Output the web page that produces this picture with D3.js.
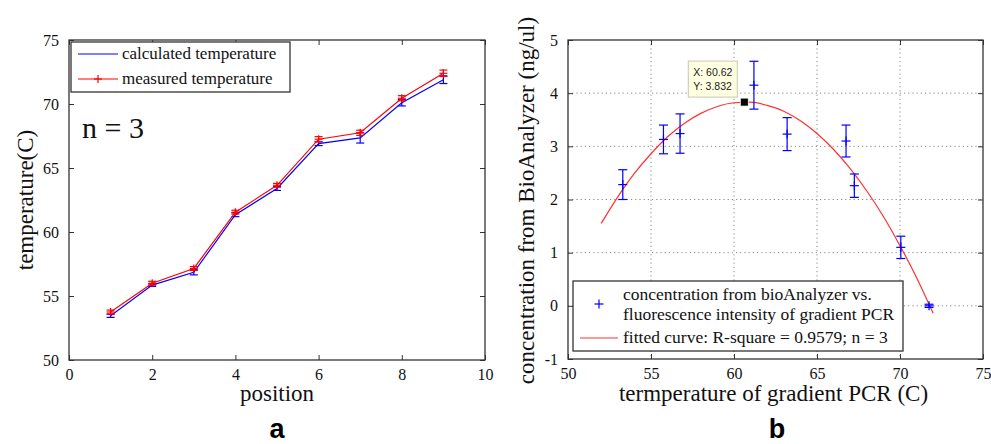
<!DOCTYPE html>
<html>
<head>
<meta charset="utf-8">
<script src="https://cdn.jsdelivr.net/npm/d3@7"></script>
<style>
  body { margin: 0; background: #fff; }
  svg { display: block; }
</style>
</head>
<body>
<div id="chart"></div>
<script>
// ---- panel a: temperature vs position ----
const positions = [1, 2, 3, 4, 5, 6, 7, 8, 9];
const calcTemp = [53.45, 55.85, 56.85, 61.35, 63.4, 66.9, 67.35, 70.1, 71.9];
const calcErr = [0.12, 0.1, 0.2, 0.15, 0.15, 0.15, 0.4, 0.25, 0.3];
const measTemp = [53.75, 56.0, 57.15, 61.55, 63.65, 67.25, 67.75, 70.45, 72.4];
const measErr = [0.15, 0.15, 0.15, 0.15, 0.15, 0.2, 0.2, 0.2, 0.25];
const aXTicks = [0, 2, 4, 6, 8, 10];
const aYTicks = [50, 55, 60, 65, 70, 75];

// ---- panel b: concentration vs PCR temperature ----
const pcrTemp = [53.3, 55.75, 56.75, 61.2, 63.2, 66.75, 67.25, 70.05, 71.75];
const concMean = [2.28, 3.13, 3.24, 4.15, 3.23, 3.1, 2.26, 1.1, 0.0];
const concErr = [0.28, 0.27, 0.37, 0.45, 0.31, 0.3, 0.22, 0.21, 0.03];
// fitted curve at whole degrees
const fitX = [52, 53, 54, 55, 56, 57, 58, 59, 60, 61, 62, 63, 64, 65, 66, 67, 68, 69, 70, 71, 72];
const fitY = [1.55, 2.05, 2.49, 2.86, 3.18, 3.43, 3.62, 3.75, 3.82, 3.83, 3.77, 3.66, 3.48, 3.24, 2.94, 2.58, 2.16, 1.68, 1.13, 0.53, -0.14];
const tipX = 60.62;
const tipY = 3.832;
const bXTicks = [50, 55, 60, 65, 70, 75];
const bYTicks = [-1, 0, 1, 2, 3, 4, 5];

const W = 991, H = 444;
const axisColor = '#333';
const blue = '#0000ff';
const red = '#ff0000';
const serif = '"Liberation Serif", "Times New Roman", serif';
const sans = '"Liberation Sans", Arial, sans-serif';

const svg = d3.select('#chart').append('svg')
    .attr('width', W)
    .attr('height', H);

// 画坐标框 + 内向刻度
function drawFrame(g, x, y, xt, yt, w, h) {
    const fmt = d => String(d);
    g.append('g')
        .attr('transform', `translate(0,${h})`)
        .call(d3.axisBottom(x).tickValues(xt).tickFormat(fmt).tickSize(-5).tickSizeOuter(0).tickPadding(9));
    g.append('g')
        .call(d3.axisTop(x).tickValues(xt).tickSize(-5).tickSizeOuter(0).tickFormat(''));
    g.append('g')
        .call(d3.axisLeft(y).tickValues(yt).tickFormat(fmt).tickSize(-5).tickSizeOuter(0).tickPadding(10));
    g.append('g')
        .attr('transform', `translate(${w},0)`)
        .call(d3.axisRight(y).tickValues(yt).tickSize(-5).tickSizeOuter(0).tickFormat(''));
    g.selectAll('.tick text')
        .attr('font-family', serif)
        .attr('font-size', 16)
        .attr('fill', '#111');
    g.selectAll('.domain').attr('stroke', 'none');
    g.selectAll('.tick line').attr('stroke', axisColor);
    g.append('rect')
        .attr('width', w).attr('height', h)
        .attr('fill', 'none')
        .attr('stroke', axisColor)
        .attr('stroke-width', 1.3);
}

function errBars(g, xs, ys, es, x, y, color, cap) {
    xs.forEach((v, i) => {
        const cx = x(v);
        const y0 = y(ys[i] - es[i]), y1 = y(ys[i] + es[i]);
        g.append('line').attr('x1', cx).attr('x2', cx).attr('y1', y0).attr('y2', y1)
            .attr('stroke', color).attr('stroke-width', 1.2);
        [y0, y1].forEach(yy => {
            g.append('line').attr('x1', cx - cap).attr('x2', cx + cap).attr('y1', yy).attr('y2', yy)
                .attr('stroke', color).attr('stroke-width', 1.2);
        });
    });
}

function plusMark(g, cx, cy, r, color) {
    g.append('line').attr('x1', cx - r).attr('x2', cx + r).attr('y1', cy).attr('y2', cy)
        .attr('stroke', color).attr('stroke-width', 1.2);
    g.append('line').attr('x1', cx).attr('x2', cx).attr('y1', cy - r).attr('y2', cy + r)
        .attr('stroke', color).attr('stroke-width', 1.2);
}

function serifText(sel, size) {
    return sel.attr('font-family', serif).attr('font-size', size).attr('fill', '#111');
}

/*
 * panel a
 */
(function () {
    const left = 69, top = 40, w = 416, h = 320;
    const x = d3.scaleLinear().domain([0, 10]).range([0, w]);
    const y = d3.scaleLinear().domain([50, 75]).range([h, 0]);
    const g = svg.append('g').attr('transform', `translate(${left},${top})`);

    drawFrame(g, x, y, aXTicks, aYTicks, w, h);

    const line = d3.line().x(d => x(d[0])).y(d => y(d[1]));
    g.append('path')
        .datum(positions.map((p, i) => [p, calcTemp[i]]))
        .attr('d', line).attr('fill', 'none').attr('stroke', blue).attr('stroke-width', 1.2);
    errBars(g, positions, calcTemp, calcErr, x, y, blue, 4);

    g.append('path')
        .datum(positions.map((p, i) => [p, measTemp[i]]))
        .attr('d', line).attr('fill', 'none').attr('stroke', red).attr('stroke-width', 1.2);
    errBars(g, positions, measTemp, measErr, x, y, red, 4);
    positions.forEach((p, i) => plusMark(g, x(p), y(measTemp[i]), 4, red));

    // legend
    g.append('rect').attr('x', 2).attr('y', 2).attr('width', 219).attr('height', 50)
        .attr('fill', '#fff').attr('stroke', axisColor).attr('stroke-width', 1.3);
    const legA = [
        {name: 'calculated temperature', color: blue, plus: false},
        {name: 'measured temperature', color: red, plus: true}
    ];
    legA.forEach((d, i) => {
        const yy = 14 + i * 25;
        g.append('line').attr('x1', 9).attr('x2', 49).attr('y1', yy).attr('y2', yy)
            .attr('stroke', d.color).attr('stroke-width', 1.2);
        if (d.plus) plusMark(g, 29, yy, 4, d.color);
        serifText(g.append('text'), 17).attr('x', 53).attr('y', yy + 5).text(d.name);
    });

    serifText(g.append('text'), 30).attr('x', 13).attr('y', 98).text('n = 3');

    serifText(svg.append('text'), 23)
        .attr('transform', `translate(33,${top + h / 2}) rotate(-90)`)
        .attr('text-anchor', 'middle')
        .text('temperature(C)');
    serifText(svg.append('text'), 23)
        .attr('x', left + w / 2).attr('y', 401)
        .attr('text-anchor', 'middle')
        .text('position');
    svg.append('text')
        .attr('x', left + w / 2).attr('y', 438)
        .attr('text-anchor', 'middle').attr('font-size', 27).attr('font-weight', 'bold')
        .attr('font-family', sans)
        .text('a');
})();

/*
 * panel b
 */
(function () {
    const left = 568, top = 40, w = 415, h = 319;
    const x = d3.scaleLinear().domain([50, 75]).range([0, w]);
    const y = d3.scaleLinear().domain([-1, 5]).range([h, 0]);
    const g = svg.append('g').attr('transform', `translate(${left},${top})`);

    // 网格
    const grid = g.append('g');
    bXTicks.slice(1, -1).forEach(t => {
        grid.append('line').attr('x1', x(t)).attr('x2', x(t)).attr('y1', 0).attr('y2', h)
            .attr('stroke', '#888').attr('stroke-dasharray', '1.2,3');
    });
    bYTicks.slice(1, -1).forEach(t => {
        grid.append('line').attr('x1', 0).attr('x2', w).attr('y1', y(t)).attr('y2', y(t))
            .attr('stroke', '#888').attr('stroke-dasharray', '1.2,3');
    });

    drawFrame(g, x, y, bXTicks, bYTicks, w, h);

    g.append('path')
        .datum(fitX.map((v, i) => [v, fitY[i]]))
        .attr('d', d3.line().x(d => x(d[0])).y(d => y(d[1])).curve(d3.curveMonotoneX))
        .attr('fill', 'none').attr('stroke', '#ff3030').attr('stroke-width', 1.2);

    errBars(g, pcrTemp, concMean, concErr, x, y, blue, 4.5);
    pcrTemp.forEach((v, i) => plusMark(g, x(v), y(concMean[i]), 4.5, blue));

    // data tip
    const tx = x(tipX), ty = y(tipY);
    g.append('rect').attr('x', tx - 4).attr('y', ty - 4).attr('width', 8).attr('height', 8)
        .attr('fill', '#000').attr('stroke', '#fff').attr('stroke-width', 0.8);
    g.append('rect').attr('x', tx - 56).attr('y', ty - 41).attr('width', 49).attr('height', 36)
        .attr('fill', '#ffffe1').attr('stroke', '#c8c8b0').attr('stroke-width', 1);
    ['X: 60.62', 'Y: 3.832'].forEach((s, i) => {
        g.append('text').attr('x', tx - 51).attr('y', ty - 26 + i * 14)
            .attr('font-family', sans)
            .attr('font-size', 10.5).attr('fill', '#222').text(s);
    });

    // legend
    const lx = 5, ly = 241;
    g.append('rect').attr('x', lx).attr('y', ly).attr('width', 330).attr('height', 70)
        .attr('fill', '#fff').attr('stroke', axisColor).attr('stroke-width', 1.3);
    plusMark(g, 31, 264, 4.5, blue);
    const legTxt = ['concentration from bioAnalyzer vs.', 'fluorescence intensity of gradient PCR',
        'fitted curve: R-square = 0.9579; n = 3'];
    const legY = [260, 280, 303];
    legTxt.forEach((s, i) => {
        serifText(g.append('text'), 17.5).attr('x', 55).attr('y', legY[i]).text(s);
    });
    g.append('line').attr('x1', 12).attr('x2', 50).attr('y1', 298).attr('y2', 298)
        .attr('stroke', '#ff3030').attr('stroke-width', 1.2);

    serifText(svg.append('text'), 23)
        .attr('transform', `translate(534,${top + h / 2 + 1}) rotate(-90)`)
        .attr('text-anchor', 'middle')
        .text('concentration from BioAnalyzer (ng/ul)');
    serifText(svg.append('text'), 23)
        .attr('x', left + w / 2 - 2).attr('y', 401)
        .attr('text-anchor', 'middle')
        .text('termperature of gradient PCR (C)');
    svg.append('text')
        .attr('x', 777).attr('y', 438)
        .attr('text-anchor', 'middle').attr('font-size', 27).attr('font-weight', 'bold')
        .attr('font-family', sans)
        .text('b');
})();
</script>
</body>
</html>
